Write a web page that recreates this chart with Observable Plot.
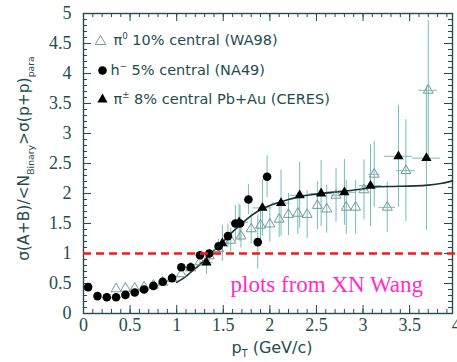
<!DOCTYPE html>
<html><head><meta charset="utf-8">
<script src="https://cdn.jsdelivr.net/npm/d3@7"></script>
<script src="https://cdn.jsdelivr.net/npm/@observablehq/plot@0.6"></script>
<style>body{margin:0;background:#fff}</style>
</head><body><div id="chart"></div>
<script>
// ---- data ----
const wa98Pt  = [0.35,0.45,0.55,0.65,0.75,0.85,0.95,1.05,1.15,1.25,1.35,1.45,1.58,1.69,1.80,1.90,2.00,2.10,2.20,2.30,2.40,2.51,2.61,2.71,2.82,2.92,3.01,3.12,3.26,3.46,3.70];
const wa98Val = [0.41,0.42,0.42,0.44,0.47,0.52,0.58,0.66,0.76,0.86,0.96,1.08,1.22,1.29,1.41,1.47,1.49,1.57,1.65,1.67,1.65,1.80,1.74,1.97,1.77,1.77,2.06,2.32,1.77,2.38,3.72];
const wa98Err = [0,0,0,0,0,0,0,0,0.05,0.08,0.1,0.12,0.2,0.2,0.25,0.3,0.3,0.3,0.35,0.35,0.4,0.4,0.4,0.45,0.45,0.45,0.5,0.55,0.42,0.85,1.16];
const wa98XErr= [0,0,0,0,0,0,0,0,0,0,0,0,0,0,0,0,0,0,0,0,0,0,0,0.05,0,0,0.05,0.06,0.09,0.1,0.1];

const na49Pt  = [0.05,0.15,0.25,0.35,0.45,0.55,0.65,0.75,0.85,0.95,1.05,1.15,1.25,1.35,1.45,1.55,1.63,1.68,1.77,1.87,1.97];
const na49Val = [0.44,0.29,0.27,0.27,0.31,0.35,0.40,0.46,0.53,0.59,0.77,0.77,0.97,1.00,1.12,1.29,1.50,1.50,1.90,1.19,2.28];
const na49Err = [0,0,0,0,0,0,0,0,0,0,0,0,0.05,0.05,0.12,0.2,0.3,0.3,0.25,0.45,0.35];

const ceresPt  = [1.32,1.49,1.67,1.92,2.12,2.32,2.55,2.80,3.08,3.38,3.68];
const ceresVal = [0.85,1.17,1.52,1.76,1.84,1.97,2.00,2.02,2.13,2.62,2.59];
const ceresErr = [0.2,0.3,0.3,0.47,0.55,0.55,0.55,0.55,0.68,0.85,1.2];
const ceresXErr= [0.07,0.07,0.1,0.1,0.1,0.1,0.12,0.12,0.12,0.15,0.15];

const curvePt  = [1.00,1.10,1.20,1.30,1.40,1.50,1.60,1.70,1.80,1.90,2.00,2.10,2.20,2.30,2.40,2.50,2.60,2.80,3.00,3.10,3.40,3.70,3.85,3.96];
const curveVal = [0.52,0.62,0.75,0.89,1.05,1.20,1.36,1.50,1.63,1.73,1.80,1.85,1.90,1.94,1.97,1.99,2.01,2.04,2.08,2.11,2.12,2.14,2.17,2.21];

const xTicks = [0,0.5,1,1.5,2,2.5,3,3.5,4];
const xTickLabels = ["0","0.5","1","1.5","2","2.5","3","3.5","4"];
const yTicks = [0,0.5,1,1.5,2,2.5,3,3.5,4,4.5,5];
const yTickLabels = ["0","0.5","1","1.5","2","2.5","3","3.5","4","4.5","5"];
const refLine = [1];

const legendLabels = ["π0 10% central (WA98)", "h- 5% central (NA49)", "π± 8% central Pb+Au (CERES)"];
const annotation = ["plots from XN Wang"];
const xTitle = ["pT (GeV/c)"];
const yTitle = ["σ(A+B)/<NBinary>σ(p+p)para"];

// ---- build tables ----
const wa98 = wa98Pt.map((x,i)=>({x, y:wa98Val[i], e:wa98Err[i], ex:wa98XErr[i]}));
const na49 = na49Pt.map((x,i)=>({x, y:na49Val[i], e:na49Err[i]}));
const ceres = ceresPt.map((x,i)=>({x, y:ceresVal[i], e:ceresErr[i], ex:ceresXErr[i]}));
const curve = curvePt.map((x,i)=>({x, y:curveVal[i]}));

const ink = "#234d4d", err = "#74bcbc", openTri = "#7a9797";
const xMinor = d3.range(0, 3.95, 0.1), yMinor = d3.range(0, 5.01, 0.1);
const fw = 452 - 83, fh = 313 - 13;
const sans = "'DejaVu Sans', sans-serif";

const chart = Plot.plot({
  width: 457, height: 362,
  marginLeft: 83, marginRight: 5, marginTop: 13, marginBottom: 49,
  x: {domain: [0, 3.96]},
  y: {domain: [0, 5]},
  style: {fontFamily: "'Liberation Serif', serif", fontSize: "18px", color: ink, background: "white", overflow: "visible"},
  marks: [
    // frame ticks
    Plot.tickX(xMinor, {x: d=>d, insetTop: fh-4, stroke: ink}),
    Plot.tickX(xTicks.filter(d=>d<3.96), {x: d=>d, insetTop: fh-8, stroke: ink}),
    Plot.tickX(xMinor, {x: d=>d, insetBottom: fh-4, stroke: ink}),
    Plot.tickX(xTicks.filter(d=>d<3.96), {x: d=>d, insetBottom: fh-8, stroke: ink}),
    Plot.tickY(yMinor, {y: d=>d, insetRight: fw-4, stroke: ink}),
    Plot.tickY(yTicks, {y: d=>d, insetRight: fw-8, stroke: ink}),
    Plot.tickY(yMinor, {y: d=>d, insetLeft: fw-4, stroke: ink}),
    Plot.tickY(yTicks, {y: d=>d, insetLeft: fw-8, stroke: ink}),
    Plot.frame({stroke: ink, strokeWidth: 1.4}),
    Plot.axisX({ticks: xTicks, tickSize: 0, tickPadding: 5, tickFormat: (d)=>xTickLabels[xTicks.indexOf(d)], label: null, fontSize: 18}),
    Plot.axisY({ticks: yTicks, tickSize: 0, tickPadding: 12, tickFormat: (d)=>yTickLabels[yTicks.indexOf(d)], label: null, fontSize: 18}),
    // error bars
    Plot.ruleX(wa98.filter(d=>d.e>0), {x:"x", y1:d=>d.y-d.e, y2:d=>d.y+d.e, stroke: err, strokeWidth: 1}),
    Plot.ruleY(wa98.filter(d=>d.ex>0), {y:"y", x1:d=>d.x-d.ex, x2:d=>d.x+d.ex, stroke: err, strokeWidth: 1}),
    Plot.ruleX(na49.filter(d=>d.e>0), {x:"x", y1:d=>d.y-d.e, y2:d=>d.y+d.e, stroke: err, strokeWidth: 1}),
    Plot.ruleX(ceres, {x:"x", y1:d=>d.y-d.e, y2:d=>d.y+d.e, stroke: err, strokeWidth: 1}),
    Plot.ruleY(ceres, {y:"y", x1:d=>d.x-d.ex, x2:d=>d.x+d.ex, stroke: err, strokeWidth: 1}),
    // curve
    Plot.line(curve, {x:"x", y:"y", stroke: "#1c3333", strokeWidth: 1.6, curve: "natural"}),
    // points
    Plot.dot(wa98, {x:"x", y:"y", symbol: "triangle", r: 3.7, stroke: openTri, fill: "none", strokeWidth: 1}),
    Plot.dot(na49, {x:"x", y:"y", r: 4.3, fill: "black"}),
    Plot.dot(ceres, {x:"x", y:"y", symbol: "triangle", r: 3.8, fill: "black"}),
    // legend
    Plot.dot([0], {frameAnchor: "top-left", dx: 17, dy: 28, symbol: "triangle", r: 3.9, stroke: openTri, fill: "none", strokeWidth: 1}),
    Plot.dot([0], {frameAnchor: "top-left", dx: 19, dy: 57, r: 4.3, fill: "black"}),
    Plot.dot([0], {frameAnchor: "top-left", dx: 19, dy: 86, symbol: "triangle", r: 3.8, fill: "black"}),
    Plot.text([legendLabels[0]], {frameAnchor: "top-left", dx: 30, dy: 27, textAnchor: "start", lineAnchor: "middle", fontFamily: sans, fontSize: 14.5, fill: ink}),
    Plot.text([legendLabels[1]], {frameAnchor: "top-left", dx: 27, dy: 57, textAnchor: "start", lineAnchor: "middle", fontFamily: sans, fontSize: 14.5, fill: ink}),
    Plot.text([legendLabels[2]], {frameAnchor: "top-left", dx: 30, dy: 86, textAnchor: "start", lineAnchor: "middle", fontFamily: sans, fontSize: 14.5, fill: ink}),
    // titles
    Plot.text(xTitle, {frameAnchor: "bottom", dx: 4, dy: 34, lineAnchor: "middle", fontFamily: sans, fontSize: 16, fill: ink}),
    Plot.text(yTitle, {frameAnchor: "left", dx: -59, dy: -5, rotate: -90, textAnchor: "middle", lineAnchor: "middle", fontFamily: sans, fontSize: 15.5, fill: ink}),
    // reference line and annotation
    Plot.ruleY(refLine, {y: d=>d, x1: 0, x2: 4, stroke: "#ee1c1c", strokeWidth: 2.5, strokeDasharray: "8,5"}),
    Plot.text(annotation, {frameAnchor: "bottom-left", dx: 147, dy: -22, textAnchor: "start", lineAnchor: "bottom", fontFamily: "'Liberation Serif', serif", fontSize: 23, fill: "#ff2ccc"})
  ]
});
document.getElementById("chart").append(chart);

// rich text: superscripts / subscripts
const rich = {
  [legendLabels[0]]: [["π"],["0","sup"],[" 10% central (WA98)"]],
  [legendLabels[1]]: [["h"],["−","sup"],[" 5% central (NA49)"]],
  [legendLabels[2]]: [["π"],["±","sup"],[" 8% central Pb+Au (CERES)"]],
  [xTitle[0]]: [["p"],["T","sub"],[" (GeV/c)"]],
  [yTitle[0]]: [["σ(A+B)/<N"],["Binary","sub"],[">σ(p+p)"],["para","sub"]]
};
chart.querySelectorAll("text").forEach(t => {
  const parts = rich[t.textContent];
  if (!parts) return;
  while (t.firstChild) t.removeChild(t.firstChild);
  let shift = 0;
  for (const [s, kind] of parts) {
    const ts = document.createElementNS("http://www.w3.org/2000/svg", "tspan");
    const target = kind === "sup" ? -0.45 : kind === "sub" ? 0.3 : 0;
    const fs = kind ? 0.6 : 1;
    if (kind) ts.setAttribute("font-size", "60%");
    ts.setAttribute("dy", ((target - shift) / fs) + "em");
    shift = target;
    ts.textContent = s;
    t.appendChild(ts);
  }
});
</script></body></html>
